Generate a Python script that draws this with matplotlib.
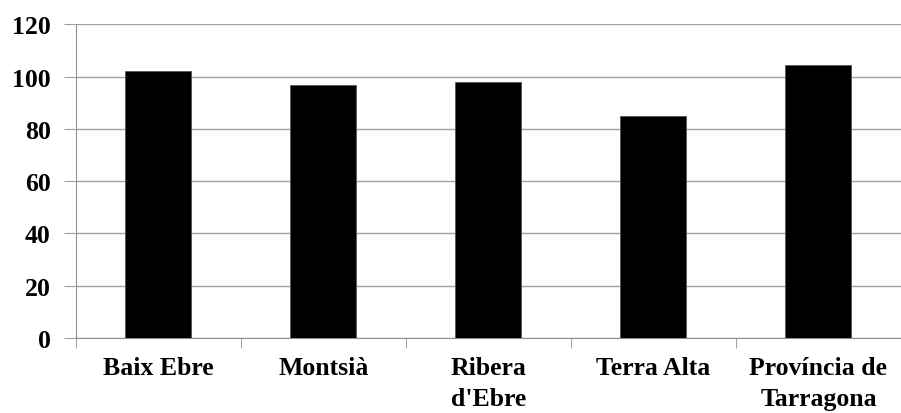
import numpy as np
import matplotlib.pyplot as plt

# comarques i valors (llegits del gràfic)
categories = ["Baix Ebre", "Montsià", "Ribera\nd'Ebre", "Terra Alta", "Província de\nTarragona"]
values = [102.1, 96.8, 98.1, 84.9, 104.3]
yticks = [0, 20, 40, 60, 80, 100, 120]

plt.rcParams['font.family'] = ['Liberation Serif', 'DejaVu Serif']

fig = plt.figure(figsize=(9.01, 4.14), dpi=100)
ax = fig.add_axes([0.084, 0.181, 0.916, 0.758])

x = np.arange(len(categories))
ax.bar(x, values, width=0.4, color='black', edgecolor='#555555', linewidth=0.6, zorder=3)

ax.set_xlim(-0.5, len(categories) - 0.5)
ax.set_ylim(0, 120)
ax.set_yticks(yticks)
ax.set_yticklabels([str(v) for v in yticks], fontsize=18.5, fontweight='bold')
ax.yaxis.grid(True, color='#a0a0a0', linewidth=1, zorder=0)

# etiquetes centrades, marques entre categories
ax.set_xticks(x)
ax.set_xticklabels(categories, fontsize=18.5, fontweight='bold', linespacing=1.45)
ax.tick_params(axis='x', length=0, pad=13)
ax.set_xticks(np.arange(len(categories) + 1) - 0.5, minor=True)
ax.tick_params(axis='x', which='minor', length=7, color='#909090', direction='out')
ax.tick_params(axis='y', length=9, color='#a0a0a0', pad=9)

ax.spines['top'].set_visible(False)
ax.spines['right'].set_visible(False)
ax.spines['left'].set_color('#909090')
ax.spines['bottom'].set_color('#909090')

fig.savefig('out.png', dpi=100)
